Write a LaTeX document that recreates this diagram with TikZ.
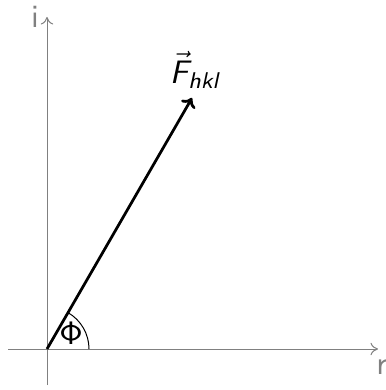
\documentclass[tikz,border=0pt]{standalone}
\usetikzlibrary{arrows.meta,calc}
\DeclareMathAlphabet{\mathsfit}{OT1}{cmss}{m}{sl}
\newcommand{\bigtxt}[1]{\scalebox{1.3}{#1}}
\begin{document}
\begin{tikzpicture}[x=0.4pt,y=-0.4pt,
  axis/.style={gray,line width=0.4pt,-{To[length=3pt,width=5pt]}},
  axlabel/.style={text=gray,font=\sffamily,inner sep=0pt},
  vec/.style={line width=1.1pt,-{To[length=3.5pt,width=6.5pt]}}]
\useasboundingbox (0,0) rectangle (385,390);
\coordinate (O) at (47,349);
\coordinate (ib) at (47,385);
\coordinate (it) at (47,17);
\coordinate (rl) at (8,349);
\coordinate (rr) at (378,349);
\coordinate (Ftip) at (192,98);
\draw[axis] (ib) -- (it);
\draw[axis] (rl) -- (rr);
\node[axlabel] (ilab) at (35,17) {\bigtxt{i}};
\node[axlabel] (rlab) at (382,367) {\bigtxt{r}};
\draw[vec] (O) -- (Ftip);
\draw[line width=0.4pt] ($(O)+(42,0)$) arc[start angle=0,end angle=-60,radius=42];
\node[inner sep=0pt] (flab) at (196,70) {\bigtxt{$\vec{\mathsfit{F}}_{\mathsfit{hkl}}$}};
\node[inner sep=0pt] (phi) at (71,333) {\bigtxt{$\mathsf{\Phi}$}};
\end{tikzpicture}
\end{document}
